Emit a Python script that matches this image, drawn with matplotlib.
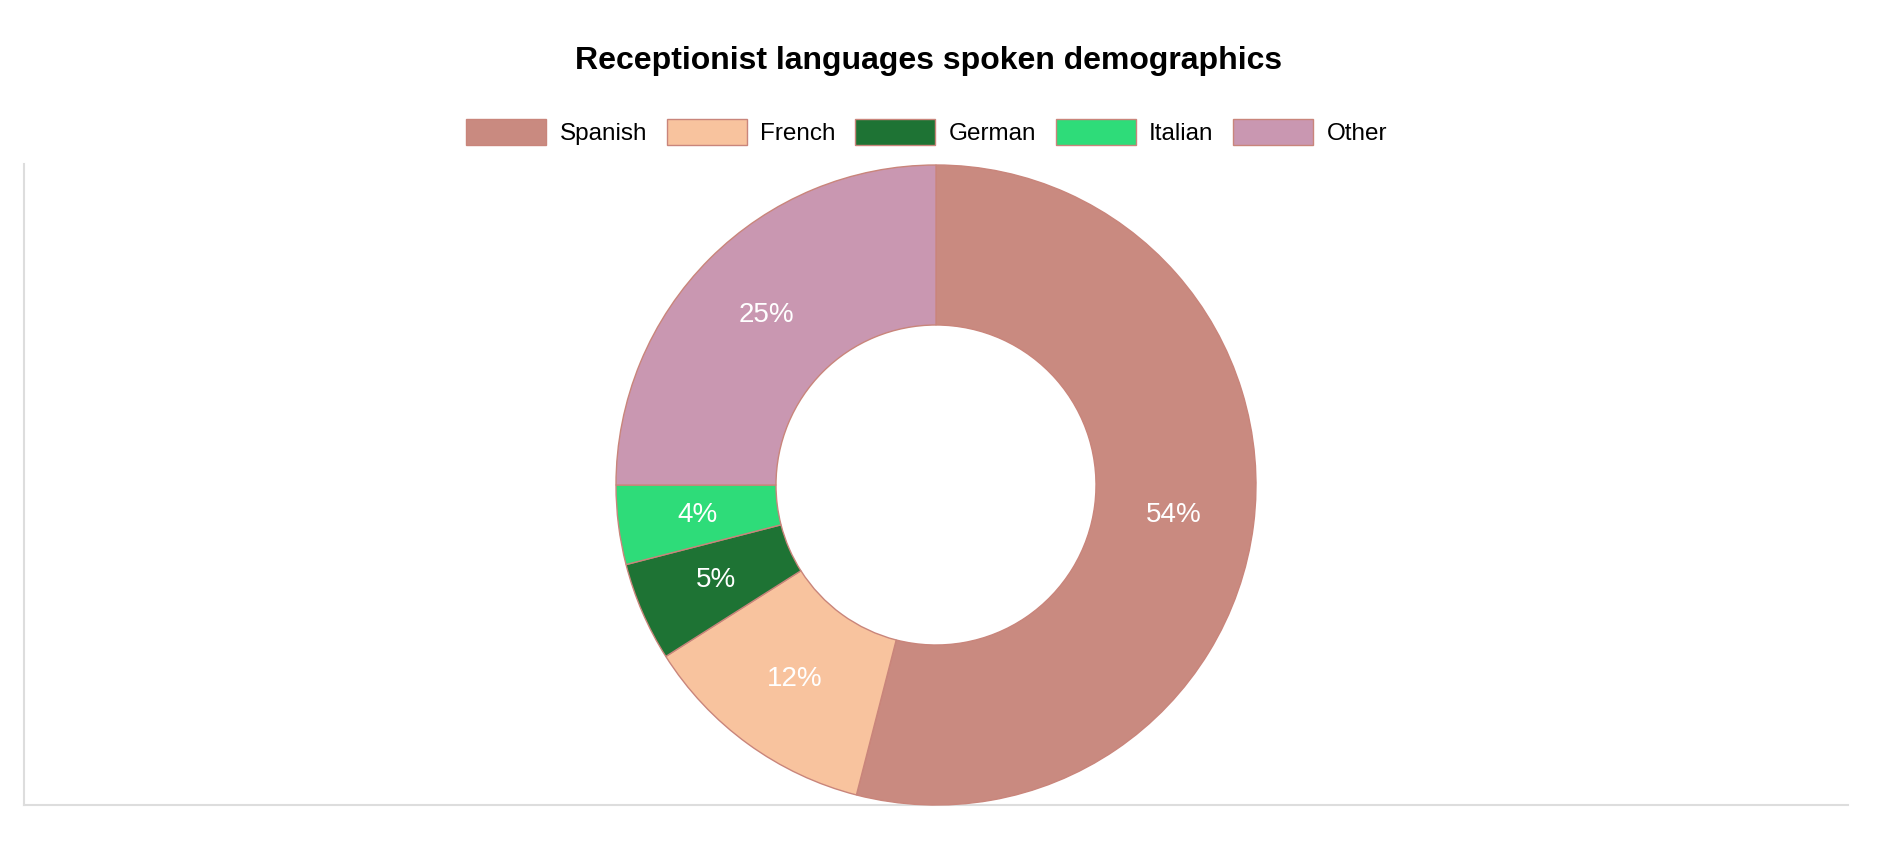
import matplotlib

matplotlib.use("Agg")
import matplotlib.pyplot as plt
from matplotlib.patches import Patch

plt.rcParams["font.family"] = ["Liberation Sans", "DejaVu Sans"]

languages = ["Spanish", "French", "German", "Italian", "Other"]
shares = [54, 12, 5, 4, 25]
colors = ["#c98a80", "#f8c39e", "#1e7334", "#2edc79", "#c997b1"]
edge = "#c9857b"

W, H = 1882, 846
fig = plt.figure(figsize=(W / 100, H / 100), dpi=100)


def px_axes(x0, y_top, x1, y_bot):
    return fig.add_axes([x0 / W, 1 - y_bot / H, (x1 - x0) / W, (y_bot - y_top) / H])


# plot area frame (left and bottom lines only)
frame = px_axes(24, 164, 1848, 805)
frame.set_xticks([])
frame.set_yticks([])
for side in ["top", "right"]:
    frame.spines[side].set_visible(False)
for side in ["left", "bottom"]:
    frame.spines[side].set_color("#dddddd")
    frame.spines[side].set_linewidth(1.5)
frame.patch.set_alpha(0)

# donut
cx, cy, r = 936, 485, 320
ax = px_axes(cx - r, cy - r, cx + r, cy + r)
wedges, _, autotexts = ax.pie(
    shares,
    colors=colors,
    startangle=90,
    counterclock=False,
    radius=1.0,
    autopct="%d%%",
    pctdistance=0.75,
    wedgeprops=dict(width=0.5, edgecolor=edge, linewidth=1),
    textprops=dict(color="white", fontsize=20),
)
ax.set_xlim(-1, 1)
ax.set_ylim(-1, 1)
ax.set_aspect("equal")
ax.axis("off")

fig.text(
    774 / 1568, 1 - 61 / H, "Receptionist languages spoken demographics",
    ha="center", va="center", fontsize=23, fontweight="bold",
)

handles = [Patch(facecolor=c, edgecolor=edge, linewidth=1) for c in colors]
fig.legend(
    handles, languages,
    loc="center", bbox_to_anchor=(772 / 1568, 1 - 132 / H),
    ncol=5, frameon=False, fontsize=17.5,
    handlelength=3.3, handleheight=1.25,
    handletextpad=0.55, columnspacing=0.8,
)

fig.savefig("out.png", dpi=100)
